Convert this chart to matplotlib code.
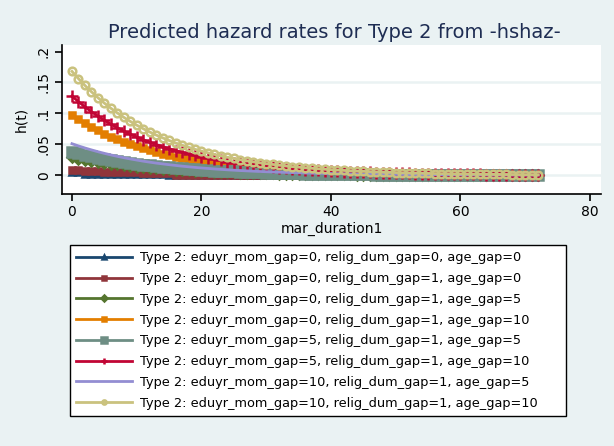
import numpy as np
import matplotlib
matplotlib.use('Agg')
import matplotlib.pyplot as plt

# mar_duration1 values (one point per unit)
t = np.arange(0, 73)

# predicted hazards (x 1000)
h_navy = [5.0, 4.6, 2.6, 2.4, 2.3, 2.2, 2.1, 2.0, 1.9, 1.8, 1.7, 1.6, 1.5, 1.4, 1.3, 1.2,
          1.1, 1.0, 1.0, 0.9, 0.9, 0.8, 0.8, 0.7, 0.7, 0.7, 0.6, 0.6, 0.6, 0.5, 0.5, 0.5,
          0.5, 0.4, 0.4, 0.4, 0.4, 0.4, 0.3, 0.3, 0.3, 0.3, 0.3, 0.3, 0.3, 0.2, 0.2, 0.2,
          0.2, 0.2, 0.2, 0.2, 0.2, 0.2, 0.1, 0.1, 0.1, 0.1, 0.1, 0.1, 0.1, 0.1, 0.1, 0.1,
          0.1, 0.1, 0.1, 0.1, 0.1, 0.1, 0.1, 0.1, 0.1]
h_maroon = [9.0, 8.5, 7.0, 6.5, 6.2, 5.9, 5.6, 5.3, 5.0, 4.8, 4.6, 4.4, 4.2, 4.0, 3.8, 3.6,
            1.2, 1.1, 1.1, 1.0, 1.0, 1.0, 0.9, 0.9, 0.9, 0.8, 0.8, 0.8, 0.7, 0.7, 0.7, 0.7,
            0.6, 0.6, 0.6, 0.6, 0.5, 0.5, 0.5, 0.5, 0.5, 0.4, 0.4, 0.4, 0.4, 0.4, 0.4, 0.3,
            0.3, 0.3, 0.3, 0.3, 0.3, 0.3, 0.3, 0.2, 0.2, 0.2, 0.2, 0.2, 0.2, 0.2, 0.2, 0.2,
            0.2, 0.2, 0.1, 0.1, 0.1, 0.1, 0.1, 0.1, 0.1]
h_green = [29, 27.0, 25.1, 23.3, 21.7, 20.1, 18.7, 17.4, 16.2, 15.0, 14.0, 13.0, 12.1, 11.2,
           10.4, 9.7, 9.0, 8.4, 7.8, 7.2, 6.7, 6.3, 5.8, 5.4, 5.0, 4.7, 4.3, 4.0, 3.8, 3.5,
           3.2, 3.0, 2.8, 2.6, 2.4, 2.3, 2.1, 1.9, 1.8, 1.7, 1.6, 1.5, 1.4, 1.3, 1.2, 1.1,
           1.0, 0.9, 0.9, 0.8, 0.8, 0.7, 0.7, 0.6, 0.6, 0.5, 0.5, 0.5, 0.4, 0.4, 0.4, 0.3,
           0.3, 0.3, 0.3, 0.3, 0.2, 0.2, 0.2, 0.2, 0.2, 0.2, 0.2]
h_orange = [97, 90.2, 83.8, 77.9, 72.4, 67.3, 62.6, 58.2, 54.1, 50.3, 46.7, 43.5, 40.4, 37.6,
            34.9, 32.5, 30.2, 28.0, 26.1, 24.2, 22.5, 20.9, 19.5, 18.1, 16.8, 15.6, 14.5,
            13.5, 12.6, 11.7, 10.9, 10.1, 9.4, 8.7, 8.1, 7.5, 7.0, 6.5, 6.1, 5.6, 5.2, 4.9,
            4.5, 4.2, 3.9, 3.6, 3.4, 3.1, 2.9, 2.7, 2.5, 2.3, 2.2, 2.0, 1.9, 1.8, 1.6, 1.5,
            1.4, 1.3, 1.2, 1.1, 1.0, 1.0, 0.9, 0.8, 0.8, 0.7, 0.7, 0.6, 0.6, 0.5, 0.5]
h_teal = [38, 35.3, 32.8, 30.5, 28.4, 26.4, 24.5, 22.8, 21.2, 19.7, 18.3, 17.0, 15.8, 14.7,
          13.7, 12.7, 11.8, 11.0, 10.2, 9.5, 8.8, 8.2, 7.6, 7.1, 6.6, 6.1, 5.7, 5.3, 4.9,
          4.6, 4.3, 4.0, 3.7, 3.4, 3.2, 3.0, 2.7, 2.6, 2.4, 2.2, 2.1, 1.9, 1.8, 1.6, 1.5,
          1.4, 1.3, 1.2, 1.1, 1.1, 1.0, 0.9, 0.9, 0.8, 0.7, 0.7, 0.6, 0.6, 0.6, 0.5, 0.5,
          0.4, 0.4, 0.4, 0.4, 0.3, 0.3, 0.3, 0.3, 0.2, 0.2, 0.2, 0.2]
h_cran = [128, 119.0, 110.6, 102.8, 95.6, 88.9, 82.6, 76.8, 71.4, 66.4, 61.7, 57.3, 53.3,
          49.6, 46.1, 42.8, 39.8, 37.0, 34.4, 32.0, 29.7, 27.6, 25.7, 23.9, 22.2, 20.6,
          19.2, 17.8, 16.6, 15.4, 14.3, 13.3, 12.4, 11.5, 10.7, 9.9, 9.3, 8.6, 8.0, 7.4,
          6.9, 6.4, 6.0, 5.6, 5.2, 4.8, 4.5, 4.1, 3.9, 3.6, 3.3, 3.1, 2.9, 2.7, 2.5, 2.3,
          2.2, 2.0, 1.9, 1.7, 1.6, 1.5, 1.4, 1.3, 1.2, 1.1, 1.0, 1.0, 0.9, 0.8, 0.8, 0.7, 0.7]
h_lav = [51, 47.4, 44.1, 41.0, 38.1, 35.4, 32.9, 30.6, 28.4, 26.4, 24.6, 22.8, 21.2, 19.7,
         18.4, 17.1, 15.9, 14.7, 13.7, 12.7, 11.8, 11.0, 10.2, 9.5, 8.8, 8.2, 7.6, 7.1, 6.6,
         6.1, 5.7, 5.3, 4.9, 4.6, 4.3, 4.0, 3.7, 3.4, 3.2, 3.0, 2.8, 2.6, 2.4, 2.2, 2.1,
         1.9, 1.8, 1.7, 1.5, 1.4, 1.3, 1.2, 1.1, 1.1, 1.0, 0.9, 0.9, 0.8, 0.7, 0.7, 0.6,
         0.6, 0.6, 0.5, 0.5, 0.4, 0.4, 0.4, 0.4, 0.3, 0.3, 0.3, 0.3]
h_khaki = [168, 156.2, 145.2, 135.0, 125.5, 116.6, 108.4, 100.8, 93.7, 87.1, 81.0, 75.3,
           70.0, 65.0, 60.5, 56.2, 52.2, 48.6, 45.2, 42.0, 39.0, 36.3, 33.7, 31.3, 29.1,
           27.1, 25.2, 23.4, 21.8, 20.2, 18.8, 17.5, 16.3, 15.1, 14.0, 13.1, 12.1, 11.3,
           10.5, 9.8, 9.1, 8.4, 7.8, 7.3, 6.8, 6.3, 5.9, 5.4, 5.1, 4.7, 4.4, 4.1, 3.8, 3.5,
           3.3, 3.0, 2.8, 2.6, 2.4, 2.3, 2.1, 2.0, 1.8, 1.7, 1.6, 1.5, 1.4, 1.3, 1.2, 1.1,
           1.0, 0.9, 0.9]

labels = [
    'Type 2: eduyr_mom_gap=0, relig_dum_gap=0, age_gap=0',
    'Type 2: eduyr_mom_gap=0, relig_dum_gap=1, age_gap=0',
    'Type 2: eduyr_mom_gap=0, relig_dum_gap=1, age_gap=5',
    'Type 2: eduyr_mom_gap=0, relig_dum_gap=1, age_gap=10',
    'Type 2: eduyr_mom_gap=5, relig_dum_gap=1, age_gap=5',
    'Type 2: eduyr_mom_gap=5, relig_dum_gap=1, age_gap=10',
    'Type 2: eduyr_mom_gap=10, relig_dum_gap=1, age_gap=5',
    'Type 2: eduyr_mom_gap=10, relig_dum_gap=1, age_gap=10',
]
series = [h_navy, h_maroon, h_green, h_orange, h_teal, h_cran, h_lav, h_khaki]

# stata s2color look
colors = ['#1a476f', '#90353b', '#55752f', '#e37e00', '#6e8e84', '#c10534', '#938dd2', '#cac27e']
markers = ['^', 's', 'D', 's', 's', '+', '', 'o']
msizes = [5, 5, 5.5, 4, 7, 8, 0, 5.5]
bg = '#eaf2f3'

fig = plt.figure(figsize=(6.14, 4.46), dpi=100, facecolor=bg)
ax = fig.add_axes([62/614, 1-194/446, 539/614, 149/446])
ax.set_facecolor('white')

for i in range(8):
    y = np.array(series[i]) / 1000.0
    mfc = 'none' if markers[i] == 'o' else colors[i]
    ax.plot(t, y, color=colors[i], lw=2.0, marker=markers[i] if markers[i] else None,
            markersize=msizes[i], markerfacecolor=mfc, markeredgecolor=colors[i],
            markeredgewidth=1.8, label=labels[i])

ax.set_xlim(-1.54, 81.7)
ax.set_ylim(-0.0303, 0.2106)
ax.set_xticks([0, 20, 40, 60, 80])
ax.set_yticks([0, .05, .1, .15, .2])
ax.set_yticklabels(['0', '.05', '.1', '.15', '.2'], rotation=90, va='center')
for g in [0, .05, .1, .15]:
    ax.axhline(g, color=bg, lw=1.8, zorder=0)
for s in ['top', 'right']:
    ax.spines[s].set_visible(False)
for s in ['left', 'bottom']:
    ax.spines[s].set_linewidth(1.2)
ax.tick_params(length=5, width=1.2, labelsize=10, pad=3)
ax.set_xlabel('mar_duration1', fontsize=10, labelpad=2)
ax.set_ylabel('h(t)', fontsize=10, labelpad=6)

fig.text(0.545, 1-33/446, 'Predicted hazard rates for Type 2 from -hshaz-',
         ha='center', va='center', fontsize=14, color='#1e2d53')

leg = fig.legend(loc='upper left', bbox_to_anchor=(70/614, 1-245/446, 496/614, 0.0),
                 mode='expand', fontsize=9.3, labelspacing=0.6, handlelength=4.3,
                 handletextpad=0.6, borderpad=0.5, markerscale=0.55, fancybox=False,
                 framealpha=1, edgecolor='black', borderaxespad=0)
leg.get_frame().set_linewidth(1.0)

plt.savefig('out.png', dpi=100, facecolor=bg)
